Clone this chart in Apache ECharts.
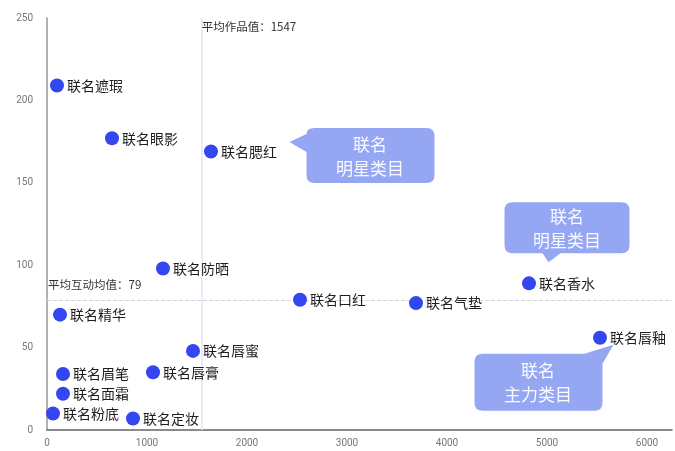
<!DOCTYPE html>
<html>
<head>
<meta charset="utf-8">
<script src="https://cdn.jsdelivr.net/npm/echarts@6/dist/echarts.min.js"></script>
<style>
  html, body { margin: 0; padding: 0; background: #ffffff; }
  #chart { width: 675px; height: 451px; }
</style>
</head>
<body>
<div id="chart"></div>
<script>
// 联名品类：作品值（x）与互动均值（y）
const names = ['联名遮瑕', '联名眼影', '联名腮红', '联名防晒', '联名精华', '联名口红', '联名气垫', '联名香水',
               '联名唇釉', '联名唇蜜', '联名唇膏', '联名眉笔', '联名面霜', '联名粉底', '联名定妆'];
const worksValues = [100, 650, 1640, 1160, 130, 2530, 3690, 4820, 5530, 1460, 1060, 160, 160, 60, 860];
const interactValues = [209, 177, 169, 98, 70, 79, 77, 89, 56, 48, 35, 34, 22, 10, 7];

// 平均线
const avgWorks = 1547;
const avgInteract = 79;

// 坐标轴范围
const xMin = 0, xMax = 6250, xStep = 1000;
const yMin = 0, yMax = 250, yStep = 50;

// 气泡标注：文字与所指向的品类
const calloutTexts = ['联名\n明星类目', '联名\n明星类目', '联名\n主力类目'];
const calloutTargets = ['联名腮红', '联名香水', '联名唇釉'];

const FONT = '"Noto Sans CJK SC", "Noto Sans", sans-serif';
const BUBBLE = '#8fa2f2';

// 气泡外形（含指向尾巴）、尺寸与偏移
const calloutShapes = [
  {
    path: 'path://M25 0H137Q145 0 145 8V47Q145 55 137 55H25Q17 55 17 47V24L0 14L17 6Q17 0 25 0Z',
    size: [145, 55], offset: [151, 4], textOffset: [8, 1]
  },
  {
    path: 'path://M8 0H117Q125 0 125 8V43Q125 51 117 51H56L44 60L38 51H8Q0 51 0 43V8Q0 0 8 0Z',
    size: [125, 60], offset: [38, -51], textOffset: [0, -4]
  },
  {
    path: 'path://M8 9H110L139 0L128 19V58Q128 66 120 66H8Q0 66 0 58V17Q0 9 8 9Z',
    size: [139, 66], offset: [-56, 40], textOffset: [-6, 5]
  }
];

const points = names.map((n, i) => ({ name: n, value: [worksValues[i], interactValues[i]] }));

const calloutData = calloutTexts.map((t, k) => {
  const i = names.indexOf(calloutTargets[k]);
  const s = calloutShapes[k];
  return {
    name: 'callout' + k,
    coord: [worksValues[i], interactValues[i]],
    symbol: s.path,
    symbolSize: s.size,
    symbolOffset: s.offset,
    itemStyle: { color: BUBBLE, opacity: 0.95 },
    label: {
      show: true,
      position: 'inside',
      formatter: t,
      offset: s.textOffset,
      color: '#ffffff',
      fontSize: 17,
      lineHeight: 24,
      fontFamily: FONT,
      align: 'center'
    }
  };
});

const chart = echarts.init(document.getElementById('chart'), null, { renderer: 'canvas' });

chart.setOption({
  backgroundColor: '#ffffff',
  animation: false,
  grid: { left: 47, right: 3, top: 18, bottom: 21, containLabel: false },
  xAxis: {
    type: 'value',
    min: xMin, max: xMax, interval: xStep,
    splitLine: { show: false },
    axisTick: { show: false },
    axisLine: { show: true, lineStyle: { color: '#666', width: 1.5 } },
    axisLabel: {
      color: '#777', fontSize: 10, margin: 8, fontFamily: 'Roboto, sans-serif',
      formatter: v => (v % xStep === 0 ? String(v) : '')
    }
  },
  yAxis: {
    type: 'value',
    min: yMin, max: yMax, interval: yStep,
    splitLine: { show: false },
    axisTick: { show: false },
    axisLine: { show: true, lineStyle: { color: '#999', width: 1.5 } },
    axisLabel: { color: '#777', fontSize: 10, margin: 14, fontFamily: 'Roboto, sans-serif' }
  },
  series: [{
    type: 'scatter',
    z: 3,
    data: points,
    symbolSize: 14,
    itemStyle: { color: '#3446f0', opacity: 1 },
    label: {
      show: true,
      position: 'right',
      distance: 3,
      formatter: p => p.name,
      color: '#1e1e1e',
      fontSize: 14,
      fontFamily: FONT
    },
    emphasis: { disabled: true },
    markLine: {
      silent: true,
      z: 1,
      symbol: 'none',
      animation: false,
      data: [
        {
          xAxis: avgWorks,
          lineStyle: { color: '#e3e5f5', type: 'solid', width: 1.5 },
          label: {
            show: true, position: 'end', align: 'left', verticalAlign: 'top',
            padding: [8, 0, 0, 0],
            formatter: '平均作品值：' + avgWorks,
            color: '#333', fontSize: 11.5, fontFamily: FONT
          }
        },
        {
          yAxis: avgInteract,
          lineStyle: { color: '#d4d6de', type: 'dashed', width: 1 },
          label: {
            show: true, position: 'insideStartTop', distance: 1,
            padding: [0, 0, 8, 0],
            formatter: '平均互动均值：' + avgInteract,
            color: '#333', fontSize: 11.5, fontFamily: FONT
          }
        }
      ]
    },
    markPoint: {
      silent: true,
      z: 5,
      animation: false,
      data: calloutData
    }
  }]
});
</script>
</body>
</html>
